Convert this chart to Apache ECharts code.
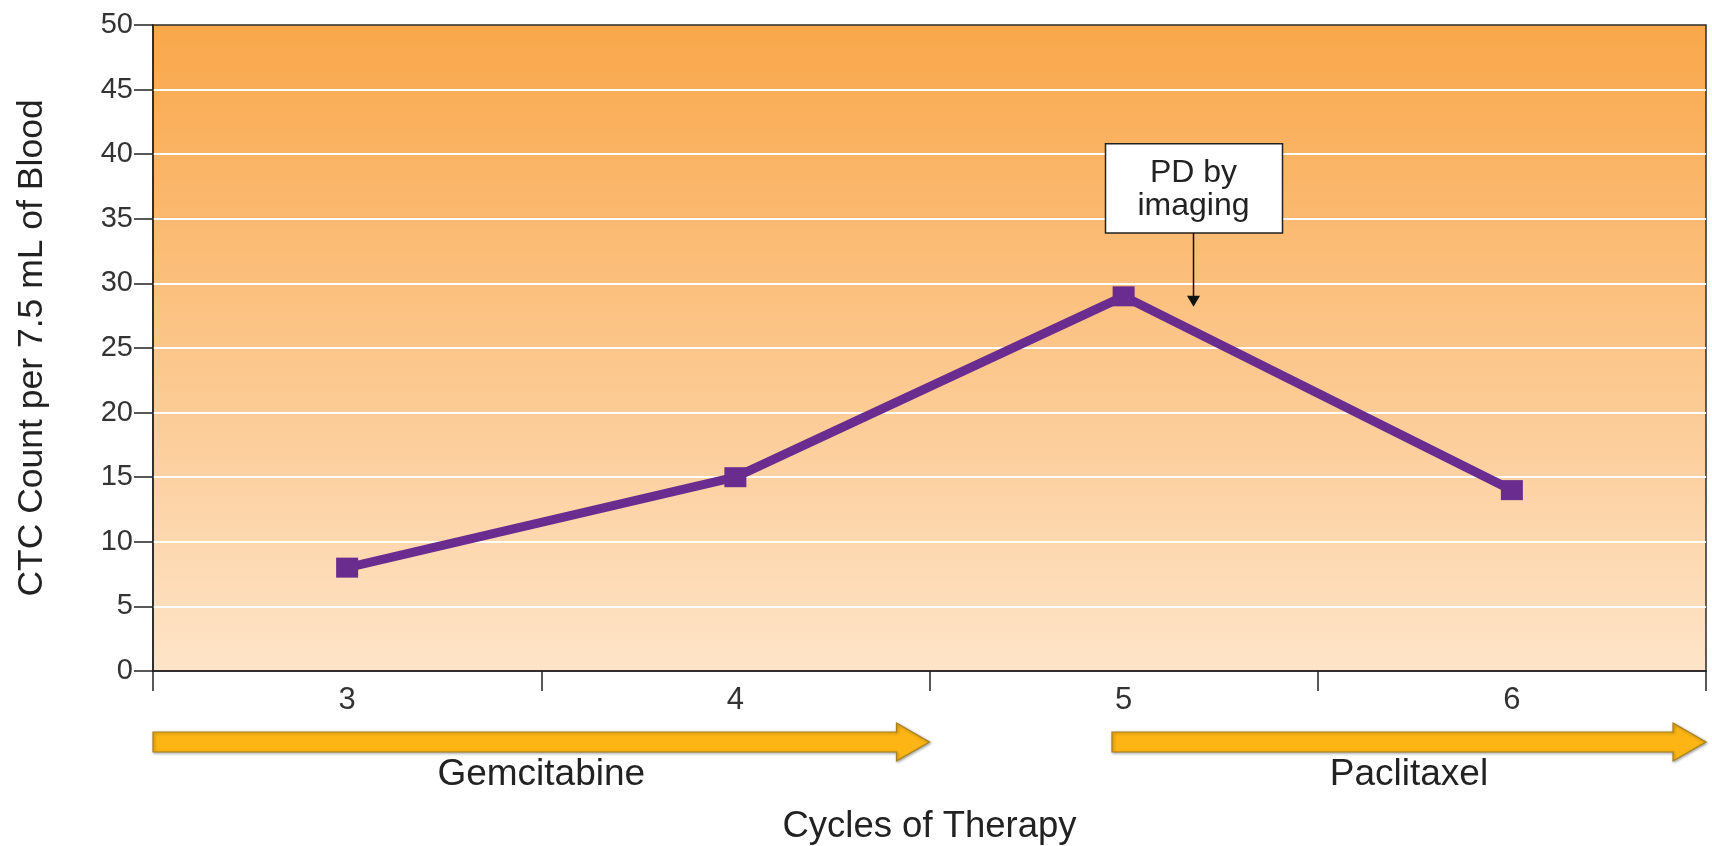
<!DOCTYPE html>
<html>
<head>
<meta charset="utf-8">
<style>
    html, body { margin: 0; padding: 0; background: #fff; }
    #chart { width: 1712px; height: 846px; }
</style>
<script src="https://cdn.jsdelivr.net/npm/echarts@6/dist/echarts.min.js"></script>
</head>
<body>
<div id="chart"></div>
<script>
    // data
    var cycles = ['3', '4', '5', '6'];
    var ctcCount = [8, 15, 29, 14];
    var yTicks = [0, 5, 10, 15, 20, 25, 30, 35, 40, 45, 50];
    // therapy arrows: [name, from category index, to category index]
    var therapyNames = ['Gemcitabine', 'Paclitaxel'];
    var therapyFrom = [-0.5, 1.97];
    var therapyTo = [1.5, 3.5];
    // annotation: text and the point (category index, value) the arrow points at
    var noteText = 'PD by\nimaging';
    var noteAt = [2.18, 28.2];
    var noteTopVal = 40.8;
    var noteBottomVal = 33.9;

    var font = '"Liberation Sans", Arial, Helvetica, sans-serif';
    var chart = echarts.init(document.getElementById('chart'));

    chart.setOption({
        animation: false,
        grid: {
            left: 153,
            right: 6,
            top: 25,
            bottom: 175,
            outerBoundsMode: 'none',
            containLabel: false,
            show: true,
            borderColor: '#2b2b2b',
            borderWidth: 1.5,
            backgroundColor: new echarts.graphic.LinearGradient(0, 0, 0, 1, [
                {offset: 0, color: '#F9A74A'},
                {offset: 1, color: '#FEE4C8'}
            ])
        },
        xAxis: {
            type: 'category',
            data: cycles,
            boundaryGap: true,
            name: 'Cycles of Therapy',
            nameLocation: 'middle',
            nameGap: 137,
            nameTextStyle: {fontFamily: font, fontSize: 36.5, color: '#222'},
            axisLine: {lineStyle: {color: '#222', width: 1.5}},
            axisTick: {show: true, alignWithLabel: false, interval: 0, length: 20, lineStyle: {color: '#222', width: 1.5}},
            axisLabel: {fontFamily: font, fontSize: 31, color: '#333', margin: 14},
            splitLine: {show: false}
        },
        yAxis: {
            type: 'value',
            min: yTicks[0],
            max: yTicks[yTicks.length - 1],
            interval: 5,
            name: 'CTC Count per 7.5 mL of Blood',
            nameLocation: 'middle',
            nameGap: 103,
            nameTextStyle: {fontFamily: font, fontSize: 35.5, color: '#222'},
            axisLine: {show: true, lineStyle: {color: '#222', width: 1.5}},
            axisTick: {show: true, length: 19, lineStyle: {color: '#222', width: 1.5}},
            axisLabel: {fontFamily: font, fontSize: 29, color: '#333', margin: 20},
            splitLine: {
                show: true,
                showMinLine: false,
                showMaxLine: false,
                lineStyle: {color: '#ffffff', width: 2}
            }
        },
        series: [{
            type: 'line',
            data: ctcCount,
            symbol: 'rect',
            symbolSize: [22, 20],
            lineStyle: {color: '#6A2C8F', width: 9},
            itemStyle: {color: '#6A2C8F'},
            z: 5
        }]
    });

    // annotation and therapy arrows, placed from axis coordinates
    function drawExtras() {
        function px(idx) {
            var p0 = chart.convertToPixel({xAxisIndex: 0}, 0);
            var p1 = chart.convertToPixel({xAxisIndex: 0}, 1);
            return p0 + idx * (p1 - p0);
        }
        function py(val) {
            return chart.convertToPixel({yAxisIndex: 0}, val);
        }

        var elements = [];
        var base = py(0);
        var cy = base + 71;

        therapyNames.forEach(function (name, i) {
            var x0 = px(therapyFrom[i]);
            var x1 = px(therapyTo[i]);
            var xh = x1 - 33;
            elements.push({
                type: 'polygon',
                shape: {
                    points: [[x0, cy - 10], [xh, cy - 10], [xh, cy - 19], [x1, cy],
                        [xh, cy + 19], [xh, cy + 10], [x0, cy + 10]]
                },
                style: {
                    fill: '#FCB514', stroke: '#A9801F', lineWidth: 1.2,
                    shadowBlur: 3, shadowColor: 'rgba(0,0,0,0.35)', shadowOffsetX: 1, shadowOffsetY: 1
                }
            });
            elements.push({
                type: 'text',
                x: (x0 + x1) / 2,
                y: base + 104,
                style: {
                    text: name, font: '37px ' + font, fill: '#222',
                    align: 'center', verticalAlign: 'middle'
                }
            });
        });

        var tipX = px(noteAt[0]);
        var tipY = py(noteAt[1]);
        var boxTop = py(noteTopVal);
        var boxBottom = py(noteBottomVal);
        elements.push({
            type: 'rect',
            shape: {x: tipX - 88, y: boxTop, width: 177, height: boxBottom - boxTop},
            style: {fill: '#fff', stroke: '#222', lineWidth: 1.5},
            z: 10
        });
        elements.push({
            type: 'text',
            x: tipX,
            y: (boxTop + boxBottom) / 2 + 1,
            style: {
                text: noteText, font: '32px ' + font, lineHeight: 33, fill: '#222',
                align: 'center', verticalAlign: 'middle'
            },
            z: 11
        });
        elements.push({
            type: 'line',
            shape: {x1: tipX, y1: boxBottom, x2: tipX, y2: tipY - 8},
            style: {stroke: '#111', lineWidth: 1.5},
            z: 10
        });
        elements.push({
            type: 'polygon',
            shape: {points: [[tipX - 6.5, tipY - 11], [tipX + 6.5, tipY - 11], [tipX, tipY]]},
            style: {fill: '#111'},
            z: 10
        });

        chart.setOption({graphic: elements});
    }
    drawExtras();
</script>
</body>
</html>
